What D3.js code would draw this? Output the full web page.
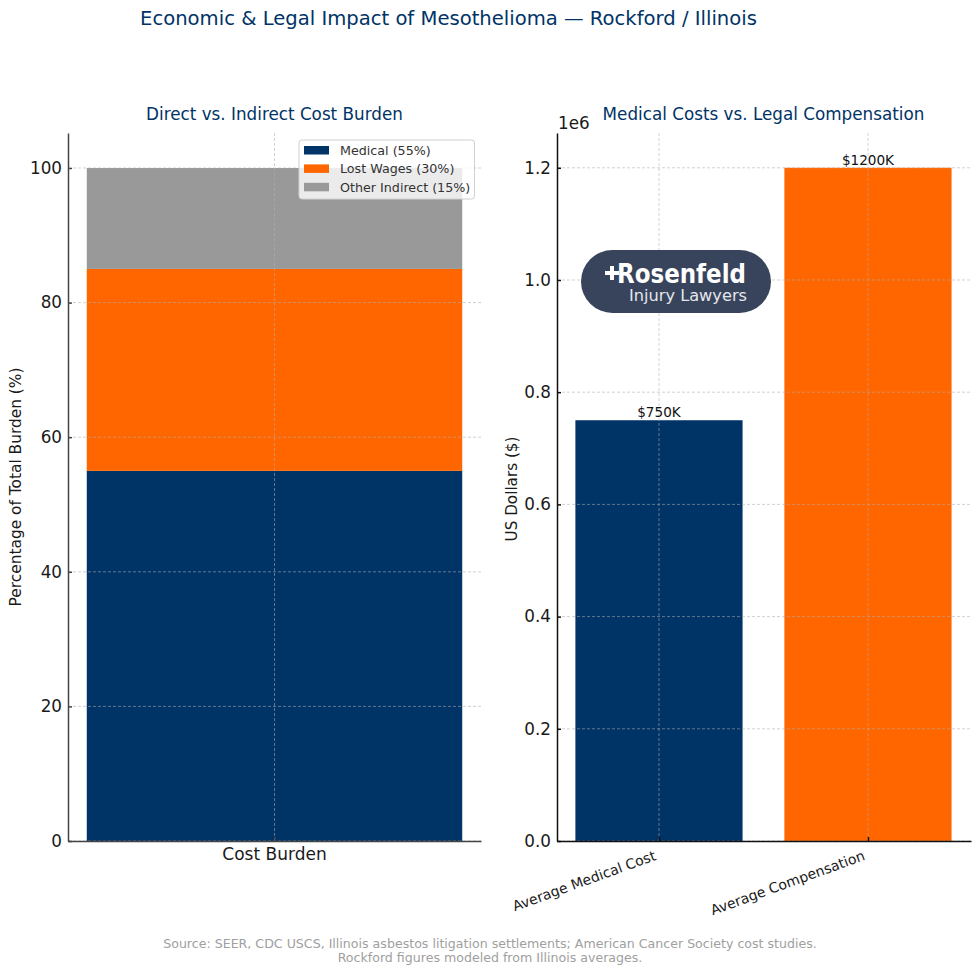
<!DOCTYPE html>
<html lang="en">
<head>
<meta charset="UTF-8">
<title>Economic & Legal Impact of Mesothelioma</title>
<script src="https://d3js.org/d3.v7.min.js"></script>
<style>
    html, body { margin: 0; padding: 0; background: #fff; }
    svg { display: block; }
    text { font-family: "DejaVu Sans", sans-serif; }
</style>
</head>
<body>
<svg id="chart" width="980" height="980"></svg>
<script>
// left panel: stacked burden
const burdenCategory = "Cost Burden";
const burdenLabels = ["Medical (55%)", "Lost Wages (30%)", "Other Indirect (15%)"];
const burdenValues = [55, 30, 15];
const burdenColors = ["#003366", "#ff6600", "#999999"];
const burdenTicks = [0, 20, 40, 60, 80, 100];

// right panel: cost vs compensation
const costCategories = ["Average Medical Cost", "Average Compensation"];
const costValues = [750000, 1200000];
const costLabels = ["$750K", "$1200K"];
const costColors = ["#003366", "#ff6600"];
const costTicks = [0, 200000, 400000, 600000, 800000, 1000000, 1200000];

const sourceLines = [
    "Source: SEER, CDC USCS, Illinois asbestos litigation settlements; American Cancer Society cost studies.",
    "Rockford figures modeled from Illinois averages."
];

const svg = d3.select("#chart");
const navy = "#003366";
const plotTop = 133, plotBottom = 841;

svg.append("text")
    .attr("x", 448.5).attr("y", 25)
    .attr("text-anchor", "middle")
    .attr("font-size", 19.6)
    .attr("fill", navy)
    .text("Economic & Legal Impact of Mesothelioma \u2014 Rockford / Illinois");

// shared bits for both panels
function drawGrid(g, x, y, xTicks, yTicks) {
    const grid = g.append("g")
        .attr("stroke", "#b0b0b0")
        .attr("stroke-width", 0.8)
        .attr("stroke-dasharray", "3,2")
        .attr("opacity", 0.7);
    grid.selectAll(".gy").data(yTicks).join("line")
        .attr("class", "gy")
        .attr("x1", x.range()[0]).attr("x2", x.range()[1])
        .attr("y1", d => y(d)).attr("y2", d => y(d));
    grid.selectAll(".gx").data(xTicks).join("line")
        .attr("class", "gx")
        .attr("x1", d => x(d)).attr("x2", d => x(d))
        .attr("y1", plotTop).attr("y2", plotBottom);
}

// ticks point inward, no top or right spine
function drawAxes(g, x, y, xTicks, yTicks, yFormat, spineColor) {
    const yAxis = g.append("g")
        .attr("transform", `translate(${x.range()[0]},0)`)
        .call(d3.axisLeft(y).tickValues(yTicks).tickFormat(yFormat)
            .tickSizeInner(-4).tickSizeOuter(0).tickPadding(6));
    yAxis.selectAll("text").attr("font-size", 16.8).attr("fill", "#1a1a1a");
    yAxis.selectAll("line, path").attr("stroke", spineColor).attr("stroke-width", 1.5);

    const xAxis = g.append("g")
        .attr("transform", `translate(0,${plotBottom})`)
        .call(d3.axisBottom(x).tickValues(xTicks).tickFormat("")
            .tickSizeInner(-4).tickSizeOuter(0));
    xAxis.selectAll("line, path").attr("stroke", spineColor).attr("stroke-width", 1.5);
}

// left panel
const xLeft = d3.scaleLinear().domain([-0.44, 0.44]).range([68, 481]);
const yLeft = d3.scaleLinear().domain([0, 105.2]).range([plotBottom, plotTop]);
const leftPanel = svg.append("g");

const stacked = burdenValues.map((v, i) => ({
    label: burdenLabels[i],
    color: burdenColors[i],
    y0: d3.sum(burdenValues.slice(0, i)),
    y1: d3.sum(burdenValues.slice(0, i + 1))
}));

leftPanel.selectAll("rect").data(stacked).join("rect")
    .attr("x", xLeft(-0.4))
    .attr("width", xLeft(0.4) - xLeft(-0.4))
    .attr("y", d => yLeft(d.y1))
    .attr("height", d => yLeft(d.y0) - yLeft(d.y1))
    .attr("fill", d => d.color);

drawGrid(leftPanel, xLeft, yLeft, [0], burdenTicks);
drawAxes(leftPanel, xLeft, yLeft, [0], burdenTicks, d => d, "#444");

leftPanel.append("text")
    .attr("x", xLeft(0)).attr("y", 120)
    .attr("text-anchor", "middle").attr("font-size", 16.8).attr("fill", navy)
    .text("Direct vs. Indirect Cost Burden");

leftPanel.append("text")
    .attr("x", xLeft(0)).attr("y", 860)
    .attr("text-anchor", "middle").attr("font-size", 17).attr("fill", "#1a1a1a")
    .text(burdenCategory);

leftPanel.append("text")
    .attr("transform", "translate(21,487) rotate(-90)")
    .attr("text-anchor", "middle").attr("font-size", 15.4).attr("fill", "#1a1a1a")
    .text("Percentage of Total Burden (%)");

// legend
const legend = leftPanel.append("g").attr("transform", "translate(299,140)");
legend.append("rect")
    .attr("width", 175.5).attr("height", 59).attr("rx", 3)
    .attr("fill", "#fff").attr("fill-opacity", 0.8)
    .attr("stroke", "#d0d0d0");
const legendRows = legend.selectAll(".row").data(stacked).join("g")
    .attr("class", "row")
    .attr("transform", (d, i) => `translate(5,${6 + i * 18.4})`);
legendRows.append("rect")
    .attr("width", 25).attr("height", 8.5)
    .attr("fill", d => d.color);
legendRows.append("text")
    .attr("x", 36).attr("y", 9)
    .attr("font-size", 12.7).attr("fill", "#333")
    .text(d => d.label);

// right panel
const xRight = d3.scaleLinear().domain([-0.488, 1.493]).range([557, 971]);
const yRight = d3.scaleLinear().domain([0, 1262000]).range([plotBottom, plotTop]);
const rightPanel = svg.append("g");

rightPanel.selectAll("rect").data(costValues).join("rect")
    .attr("x", (d, i) => xRight(i - 0.4))
    .attr("width", xRight(0.4) - xRight(-0.4))
    .attr("y", d => yRight(d))
    .attr("height", d => plotBottom - yRight(d))
    .attr("fill", (d, i) => costColors[i]);

drawGrid(rightPanel, xRight, yRight, [0, 1], costTicks);
drawAxes(rightPanel, xRight, yRight, [0, 1], costTicks, d => (d / 1e6).toFixed(1), "#111");

rightPanel.selectAll(".bar-label").data(costLabels).join("text")
    .attr("class", "bar-label")
    .attr("x", (d, i) => xRight(i))
    .attr("y", (d, i) => yRight(costValues[i]) - 3)
    .attr("text-anchor", "middle").attr("font-size", 13.6).attr("fill", "#111")
    .text(d => d);

rightPanel.append("text")
    .attr("x", 763.5).attr("y", 120)
    .attr("text-anchor", "middle").attr("font-size", 16.8).attr("fill", navy)
    .text("Medical Costs vs. Legal Compensation");

rightPanel.append("text")
    .attr("x", 558).attr("y", 129)
    .attr("font-size", 16.8).attr("fill", "#1a1a1a")
    .text("1e6");

rightPanel.append("text")
    .attr("transform", "translate(517,489) rotate(-90)")
    .attr("text-anchor", "middle").attr("font-size", 15.2).attr("fill", "#1a1a1a")
    .text("US Dollars ($)");

rightPanel.selectAll(".cat").data(costCategories).join("text")
    .attr("class", "cat")
    .attr("transform", (d, i) => `translate(${xRight(i) - 6},849) rotate(-20)`)
    .attr("text-anchor", "end").attr("dy", "0.8em").attr("font-size", 14).attr("fill", "#1a1a1a")
    .text(d => d);

// logo badge: the plus is a shape, the two words sit in one text
const logo = svg.append("g").attr("transform", "translate(581,250)");
logo.append("rect")
    .attr("width", 190).attr("height", 63).attr("rx", 31.5)
    .attr("fill", "#38445c");
logo.append("path")
    .attr("d", "M24 23H38M31 16V30")
    .attr("stroke", "#fff").attr("stroke-width", 4).attr("fill", "none");
const logoText = logo.append("text")
    .attr("font-family", "'Open Sans', sans-serif");
logoText.append("tspan")
    .attr("x", 36).attr("y", 33)
    .attr("font-weight", 600).attr("font-size", 27)
    .attr("textLength", 129).attr("lengthAdjust", "spacingAndGlyphs")
    .attr("fill", "#fff")
    .text("Rosenfeld");
logoText.append("tspan")
    .attr("x", 48).attr("y", 51)
    .attr("font-size", 15.4)
    .attr("textLength", 118).attr("lengthAdjust", "spacingAndGlyphs")
    .attr("fill", "#e4e7ec")
    .text("Injury Lawyers");

// source note
svg.selectAll(".src").data(sourceLines).join("text")
    .attr("class", "src")
    .attr("x", 490)
    .attr("y", (d, i) => 948 + i * 13.5)
    .attr("text-anchor", "middle").attr("font-size", 12.6).attr("fill", "#a0a0a0")
    .text(d => d);
</script>
</body>
</html>
